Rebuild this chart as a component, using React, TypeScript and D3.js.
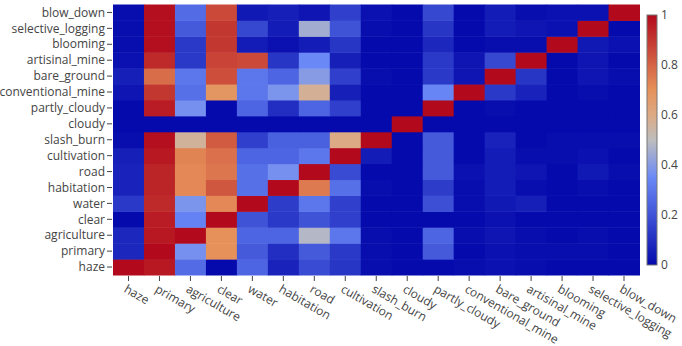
import * as d3 from "d3";

const labels = [
  "haze", "primary", "agriculture", "clear", "water", "habitation", "road",
  "cultivation", "slash_burn", "cloudy", "partly_cloudy", "conventional_mine",
  "bare_ground", "artisinal_mine", "blooming", "selective_logging", "blow_down",
];

// rows follow `labels` (haze first, drawn at the bottom)
const haze = [1, 0.97, 0.27, 0, 0.25, 0.07, 0.18, 0.12, 0.01, 0, 0, 0.01, 0.02, 0.01, 0, 0, 0];
const primary = [0.08, 1, 0.37, 0.7, 0.22, 0.1, 0.22, 0.13, 0.01, 0, 0.22, 0, 0.02, 0.01, 0.01, 0.01, 0];
const agriculture = [0.08, 0.97, 1, 0.7, 0.25, 0.25, 0.48, 0.3, 0.01, 0, 0.25, 0.01, 0.03, 0.01, 0, 0.01, 0];
const clear = [0, 0.96, 0.33, 1, 0.2, 0.13, 0.2, 0.15, 0, 0, 0, 0, 0.02, 0, 0, 0, 0];
const water = [0.13, 0.93, 0.38, 0.72, 1, 0.14, 0.3, 0.15, 0, 0, 0.19, 0.01, 0.04, 0.06, 0, 0, 0];
const habitation = [0.07, 0.94, 0.72, 0.83, 0.28, 1, 0.75, 0.28, 0.01, 0, 0.14, 0.01, 0.05, 0.01, 0, 0.01, 0];
const road = [0.07, 0.94, 0.72, 0.76, 0.28, 0.37, 1, 0.18, 0, 0, 0.22, 0.02, 0.05, 0.03, 0, 0.04, 0.01];
const cultivation = [0.06, 0.97, 0.73, 0.77, 0.25, 0.25, 0.3, 1, 0.05, 0, 0.22, 0, 0.05, 0.01, 0.01, 0.02, 0];
const slashBurn = [0.01, 0.99, 0.56, 0.82, 0.15, 0.24, 0.24, 0.6, 1, 0, 0.22, 0, 0.07, 0, 0.01, 0.01, 0.01];
const cloudy = [0, 0, 0, 0, 0, 0, 0, 0, 0, 1, 0, 0, 0, 0, 0, 0, 0];
const partlyCloudy = [0, 0.96, 0.37, 0, 0.25, 0.1, 0.25, 0.15, 0, 0, 1, 0, 0.01, 0, 0, 0, 0];
const conventionalMine = [0.03, 0.9, 0.28, 0.68, 0.3, 0.38, 0.57, 0.06, 0, 0, 0.34, 1, 0.13, 0.07, 0, 0.01, 0];
const bareGround = [0.06, 0.78, 0.3, 0.85, 0.3, 0.25, 0.4, 0.15, 0.01, 0, 0.13, 0.03, 1, 0.12, 0, 0.03, 0.01];
const artisinalMine = [0.02, 0.93, 0.13, 0.87, 0.86, 0.12, 0.35, 0.06, 0, 0, 0.13, 0.03, 0.17, 1, 0, 0.03, 0];
const blooming = [0.01, 0.99, 0.13, 0.9, 0.05, 0.02, 0.05, 0.12, 0, 0, 0.08, 0, 0.01, 0.01, 1, 0.04, 0.02];
const selectiveLogging = [0.01, 0.99, 0.22, 0.9, 0.17, 0.05, 0.45, 0.2, 0.01, 0, 0.12, 0, 0.05, 0.03, 0.02, 1, 0];
const blowDown = [0.01, 0.99, 0.27, 0.86, 0.04, 0.06, 0.03, 0.15, 0.02, 0, 0.17, 0, 0.05, 0.01, 0.02, 0.02, 1];

const z = [
  haze, primary, agriculture, clear, water, habitation, road, cultivation, slashBurn,
  cloudy, partlyCloudy, conventionalMine, bareGround, artisinalMine, blooming,
  selectiveLogging, blowDown,
];

const colorTicks = [0, 0.2, 0.4, 0.6, 0.8, 1];

export default function App() {
  const width = 682;
  const height = 346;
  const plot = { left: 113, right: 639.5, top: 4.5, bottom: 275 };
  const bar = { left: 647, right: 657, top: 15, bottom: 265 };
  const font = '"Open Sans", verdana, arial, sans-serif';
  const textColor = "#444";

  const x = d3.scaleBand().domain(labels).range([plot.left, plot.right]);
  const y = d3.scaleBand().domain(labels).range([plot.bottom, plot.top]);

  // plotly RdBu-like scale
  const color = d3.scaleLinear<string>()
    .domain([0, 0.35, 0.5, 0.6, 0.7, 1])
    .range(["rgb(5,10,172)", "rgb(106,137,247)", "rgb(190,190,190)",
      "rgb(220,170,132)", "rgb(230,145,90)", "rgb(178,10,28)"])
    .interpolate(d3.interpolateRgb);

  const cbY = d3.scaleLinear().domain([0, 1]).range([bar.bottom, bar.top]);
  const stops = d3.range(0, 1.0001, 0.05);

  return (
    <svg width={width} height={height} style={{ position: "absolute", left: 0, top: 0, background: "#fff" }}>
      <defs>
        <linearGradient id="cb" x1="0" y1="1" x2="0" y2="0">
          {stops.map((s) => (
            <stop key={s} offset={s} stopColor={color(s)} />
          ))}
        </linearGradient>
      </defs>

      {z.map((row, ri) =>
        row.map((v, ci) => (
          <rect
            key={`${ri}-${ci}`}
            x={x(labels[ci])}
            y={y(labels[ri])}
            width={x.bandwidth() + 0.5}
            height={y.bandwidth() + 0.5}
            fill={color(v)}
          />
        ))
      )}

      {/* y axis */}
      {labels.map((l) => {
        const cy = (y(l) ?? 0) + y.bandwidth() / 2;
        return (
          <g key={l}>
            <line x1={plot.left - 6} x2={plot.left - 1} y1={cy} y2={cy} stroke={textColor} />
            <text x={plot.left - 8} y={cy} dy="0.35em" textAnchor="end"
              fontFamily={font} fontSize={12} fill={textColor}>{l}</text>
          </g>
        );
      })}

      {/* x axis */}
      {labels.map((l) => {
        const cx = (x(l) ?? 0) + x.bandwidth() / 2;
        return (
          <g key={l}>
            <line x1={cx} x2={cx} y1={plot.bottom + 1} y2={plot.bottom + 6} stroke={textColor} />
            <text transform={`translate(${cx - 1},${plot.bottom + 9}) rotate(30)`}
              dy="0.71em" textAnchor="start"
              fontFamily={font} fontSize={12} fill={textColor}>{l}</text>
          </g>
        );
      })}

      {/* colorbar */}
      <rect x={bar.left} y={bar.top} width={bar.right - bar.left} height={bar.bottom - bar.top}
        fill="url(#cb)" stroke="#777" strokeWidth={1} />
      {colorTicks.map((t) => (
        <text key={t} x={bar.right + 4} y={cbY(t)} dy="0.35em"
          fontFamily={font} fontSize={12} fill={textColor}>{t}</text>
      ))}
    </svg>
  );
}
